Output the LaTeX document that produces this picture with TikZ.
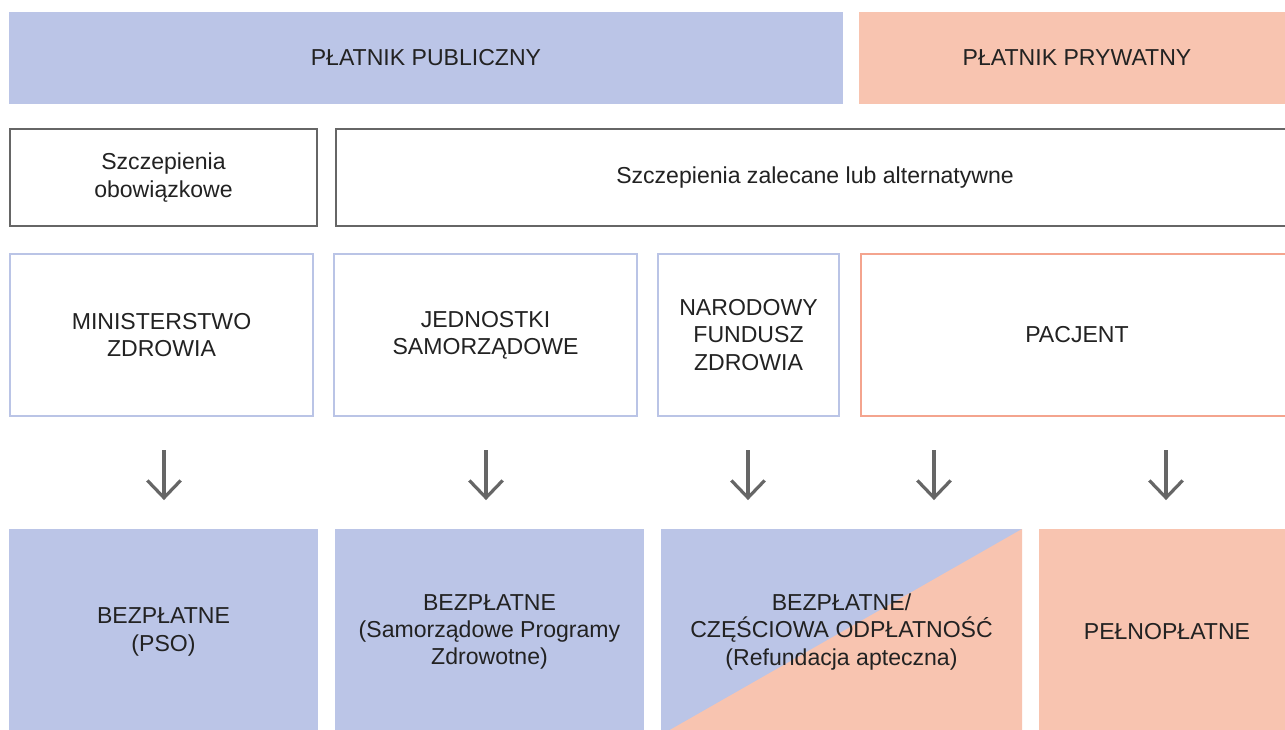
\documentclass[tikz,border=0pt]{standalone}
\usepackage{fontspec}
\setmainfont{Liberation Sans}
\usetikzlibrary{arrows.meta}

\definecolor{pubfill}{HTML}{BBC5E7}
\definecolor{privfill}{HTML}{F8C4B0}
\definecolor{publine}{HTML}{BAC4E6}
\definecolor{privline}{HTML}{F4A48E}
\definecolor{greyline}{HTML}{666666}
\definecolor{txt}{HTML}{222222}

\tikzset{
  box/.style={rectangle, inner sep=0pt, align=center, text=txt,
    font=\fontsize{17.3}{20.5}\selectfont},
  payer/.style={box, minimum height=92*0.75pt},
  group/.style={box, draw=greyline, line width=2.5*0.75pt, minimum height=97*0.75pt},
  funder/.style={box, line width=2*0.75pt, minimum height=162*0.75pt},
  result/.style={box, minimum height=206*0.75pt},
  arr/.style={draw=greyline, line width=2.4pt, -{Straight Barb[width=25pt,length=13pt,line width=2.4pt]},
    shorten <=25pt, shorten >=21.5pt}
}

\begin{document}
\begin{tikzpicture}[x=0.75pt,y=-0.75pt]
\clip (0,0) rectangle (1285,729);
\fill[white] (0,0) rectangle (1285,729);

% platnicy
\node[payer, fill=pubfill, minimum width=834*0.75pt] (pub) at (426,58) {PŁATNIK PUBLICZNY};
\node[payer, fill=privfill, minimum width=436*0.75pt] (priv) at (1077,58) {PŁATNIK PRYWATNY};

% rodzaje szczepien
\node[group, minimum width=307*0.75pt] (obow) at (163.5,177.5) {Szczepienia\\obowiązkowe};
\node[group, minimum width=958*0.75pt] (zalec) at (815,177.5) {Szczepienia zalecane lub alternatywne};

% kto finansuje
\node[funder, draw=publine, minimum width=303*0.75pt] (mz) at (161.5,335) {MINISTERSTWO\\ZDROWIA};
\node[funder, draw=publine, minimum width=303*0.75pt] (js) at (485.5,335) {JEDNOSTKI\\SAMORZĄDOWE};
\node[funder, draw=publine, minimum width=181*0.75pt] (nfz) at (748.5,335) {NARODOWY\\FUNDUSZ\\ZDROWIA};
\node[funder, draw=privline, minimum width=432*0.75pt] (pac) at (1077,335) {PACJENT};

% odplatnosc
\node[result, fill=pubfill, minimum width=309*0.75pt] (pso) at (163.5,632) {BEZPŁATNE\\(PSO)};
\node[result, fill=pubfill, minimum width=309*0.75pt] (spz) at (489.5,632) {BEZPŁATNE\\(Samorządowe Programy\\Zdrowotne)};
\node[result, fill=pubfill, minimum width=361*0.75pt,
  path picture={\fill[privfill] (path picture bounding box.south west)
    -- (path picture bounding box.south east) -- (path picture bounding box.north east) -- cycle;}]
  (refund) at (841.5,632) {BEZPŁATNE/\\CZĘŚCIOWA ODPŁATNOŚĆ\\(Refundacja apteczna)};
\node[result, fill=privfill, minimum width=256*0.75pt] (pelne) at (1167,632) {PEŁNOPŁATNE};

% strzalki
\coordinate (c1) at (164,0);
\coordinate (c2) at (486,0);
\coordinate (c3) at (748,0);
\coordinate (c4) at (934,0);
\coordinate (c5) at (1166,0);
\draw[arr] (mz.south -| c1) -- (pso.north -| c1);
\draw[arr] (js.south -| c2) -- (spz.north -| c2);
\draw[arr] (nfz.south -| c3) -- (refund.north -| c3);
\draw[arr] (pac.south -| c4) -- (refund.north -| c4);
\draw[arr] (pac.south -| c5) -- (pelne.north -| c5);
\end{tikzpicture}
\end{document}
